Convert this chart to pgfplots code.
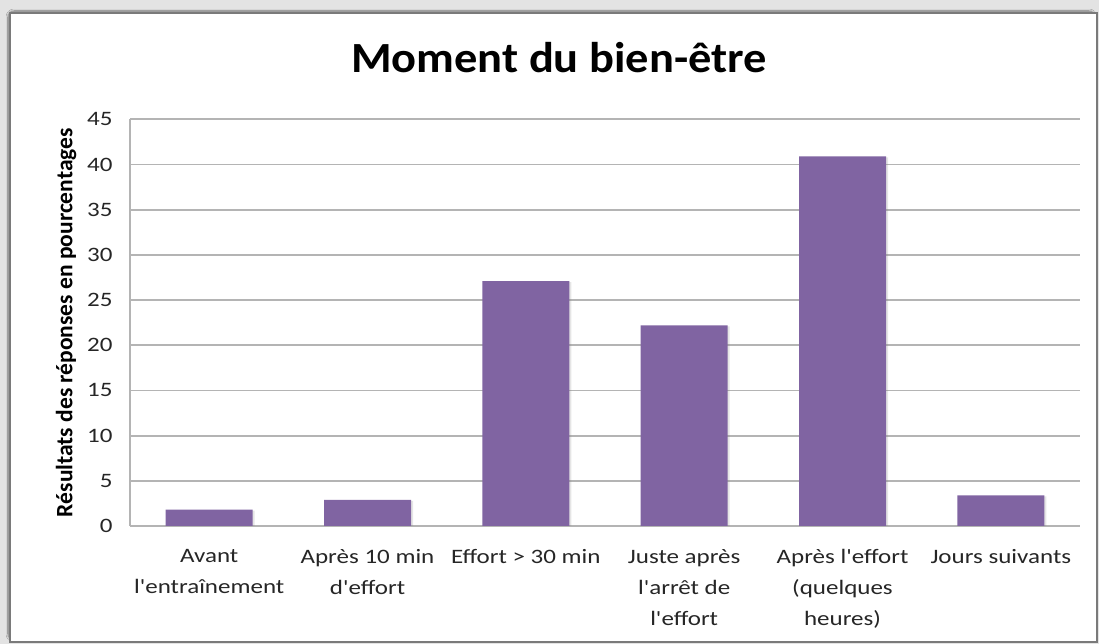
\documentclass[border=0pt]{standalone}
\usepackage{pgfplots}
\pgfplotsset{compat=1.18}
\usepackage{fontspec}
\setmainfont{Carlito}[FakeStretch=1.22, Ligatures=TeXOff]
\newfontfamily\titlefont{Carlito}[FakeStretch=1.08]
\newfontfamily\ylabfont{Carlito}
\usetikzlibrary{shadows,shadows.blur}
\definecolor{barpurple}{HTML}{8064A2}
\definecolor{gridgray}{HTML}{B4B4B4}
\definecolor{framegray}{HTML}{7A7A7A}
\definecolor{txt}{HTML}{262626}
\begin{document}
\begin{tikzpicture}[x=1pt,y=1pt]
\useasboundingbox (0,0) rectangle (1099,644);
\fill[gray!22] (0,0) rectangle (1099,644);
\draw[framegray, line width=2.5pt, fill=white, blur shadow={shadow blur steps=8, shadow xshift=-2pt, shadow yshift=2pt, shadow blur extra rounding=6pt, shadow opacity=50}] (10,2) rectangle (1097,631);
\node[font=\titlefont\bfseries\fontsize{43}{48}\selectfont] at (559,586) {Moment du bien-être};
\begin{axis}[
  at={(130pt,118pt)}, anchor=south west,
  scale only axis, width=950pt, height=406.7pt,
  ymin=0, ymax=45, ytick={0,5,...,45},
  xmin=-0.5, xmax=5.5,
  xtick=data,
  xticklabels={Avant\\l'entraînement, Après 10 min\\d'effort, Effort > 30 min, Juste après\\l'arrêt de\\l'effort, Après l'effort\\(quelques\\heures), Jours suivants},
  xticklabel style={align=center, text=txt, font=\fontsize{20.5}{31}\selectfont, yshift=-20pt},
  yticklabel style={text=txt, font=\fontsize{20.5}{24}\selectfont, xshift=-14pt},
  /pgf/number format/assume math mode=true,
  major tick length=0pt,
  axis x line*=bottom, axis y line*=left,
  axis line style={gridgray, line width=1.8pt},
  ymajorgrids, grid style={gridgray, line width=1.8pt},
  ylabel={\ylabfont\bfseries Résultats des réponses en pourcentages},
  ylabel style={font=\fontsize{23.5}{26}\selectfont, yshift=4pt},
  bar width=87pt,
]
\addplot[ybar, fill=barpurple, draw=none, drop shadow={shadow xshift=2pt, shadow yshift=-1pt, opacity=0.2}] coordinates {(0,1.8) (1,2.9) (2,27.1) (3,22.2) (4,40.9) (5,3.4)};
\end{axis}
\end{tikzpicture}
\end{document}
